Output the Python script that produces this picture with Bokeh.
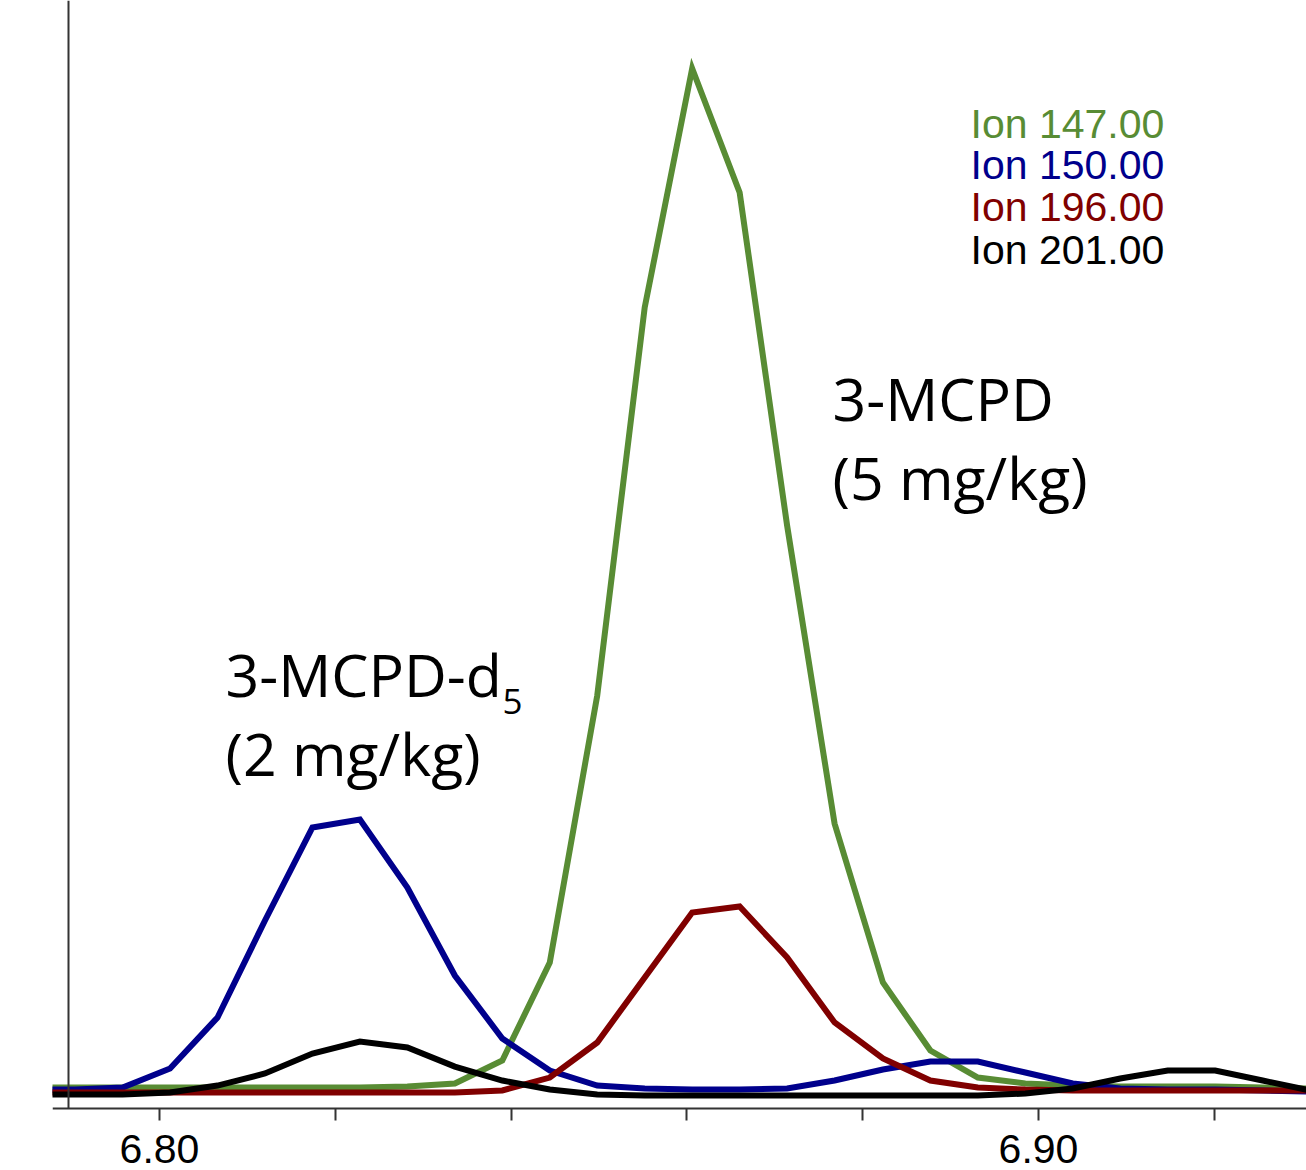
from bokeh.plotting import figure
from bokeh.models import FixedTicker, Label, Range1d, PrintfTickFormatter
from bokeh.embed import file_html
from bokeh.resources import INLINE

# ---- data (retention time in min, relative abundance) ----
times = [6.7850, 6.7904, 6.7958, 6.8012, 6.8066, 6.8120, 6.8174, 6.8228,
         6.8282, 6.8336, 6.8390, 6.8444, 6.8498, 6.8552, 6.8606, 6.8660,
         6.8714, 6.8768, 6.8823, 6.8877, 6.8931, 6.8985, 6.9039, 6.9093,
         6.9147, 6.9201, 6.9255, 6.9309]

ion147 = [0.78, 0.78, 0.78, 0.78, 0.78, 0.78, 0.78, 0.78,
          0.88, 1.17, 3.41, 12.95, 38.95, 76.73, 100.0, 87.93,
          55.50, 26.48, 11.00, 4.38, 1.75, 1.17, 0.97, 0.88,
          0.88, 0.88, 0.78, 0.68]

ion150 = [0.58, 0.58, 0.78, 2.63, 7.60, 17.04, 26.10, 26.87,
          20.25, 11.68, 5.55, 2.43, 0.97, 0.68, 0.58, 0.58,
          0.68, 1.46, 2.53, 3.31, 3.31, 2.24, 1.17, 0.68,
          0.58, 0.58, 0.49, 0.39]

ion196 = [0.29, 0.29, 0.29, 0.29, 0.29, 0.29, 0.29, 0.29,
          0.29, 0.29, 0.49, 1.75, 5.16, 11.49, 17.82, 18.40,
          13.44, 7.11, 3.60, 1.46, 0.78, 0.58, 0.49, 0.49,
          0.49, 0.49, 0.49, 0.49]

ion201 = [0.10, 0.10, 0.10, 0.29, 0.97, 2.14, 4.09, 5.26,
          4.67, 2.82, 1.46, 0.58, 0.10, 0.0, 0.0, 0.0,
          0.0, 0.0, 0.0, 0.0, 0.0, 0.19, 0.68, 1.66,
          2.43, 2.43, 1.46, 0.49]

ion_names = ["Ion 147.00", "Ion 150.00", "Ion 196.00", "Ion 201.00"]
ion_colors = ["#588C34", "#00008C", "#800000", "#000000"]
series = [ion147, ion150, ion196, ion201]

major_ticks = [6.80, 6.90]
minor_ticks = [6.82, 6.84, 6.86, 6.88, 6.92]

# ---- layout helpers (canvas pixel -> data coordinate, for annotations) ----
def X(px):
    return 6.80 + (px - 159) / 8790.0

def Y(py):
    return (1095 - py) / 10.27

W, H = 1306, 1170
p = figure(width=W, height=H, output_backend="svg", toolbar_location=None,
           x_range=Range1d(X(52), X(W)), y_range=Range1d(Y(H), Y(0)),
           min_border_left=52, min_border_right=0, min_border_top=0, min_border_bottom=0)
p.background_fill_color = "white"
p.border_fill_color = "white"
p.outline_line_color = None
p.xgrid.visible = False
p.ygrid.visible = False

# x axis
xa = p.xaxis[0]
xa.fixed_location = Y(1108)
xa.ticker = FixedTicker(ticks=major_ticks, minor_ticks=minor_ticks)
xa.formatter = PrintfTickFormatter(format="%.2f")
xa.axis_line_color = "#333333"
xa.axis_line_width = 2
xa.major_tick_line_color = "#333333"
xa.major_tick_line_width = 2
xa.minor_tick_line_color = "#333333"
xa.minor_tick_line_width = 2
xa.major_tick_in = 0
xa.major_tick_out = 12
xa.minor_tick_in = 0
xa.minor_tick_out = 12
xa.major_label_text_font = "Liberation Sans"
xa.major_label_text_font_size = "41px"
xa.major_label_text_color = "#000000"
xa.major_label_standoff = 14

# y axis (line only)
ya = p.yaxis[0]
ya.fixed_location = X(68)
ya.bounds = (Y(1108), Y(0))
ya.ticker = FixedTicker(ticks=[])
ya.axis_line_color = "#333333"
ya.axis_line_width = 2
ya.major_tick_line_color = None
ya.minor_tick_line_color = None

# traces
for vals, col in zip(series, ion_colors):
    p.line(times, vals, line_color=col, line_width=6, line_join="miter")

# text placement: baseline target in canvas px (empirical 0.4 em correction)
def lab(x_px, base_px, text, size, font, color="black"):
    p.add_layout(Label(x=X(x_px), y=Y(base_px - 0.4 * size), text=text,
                       text_color=color, text_font=font,
                       text_font_size=f"{size}px",
                       text_baseline="alphabetic", text_align="left"))

# legend text
legend_base = [140, 181, 223, 266]
for name, col, by in zip(ion_names, ion_colors, legend_base):
    lab(970, by, name, 41, "Liberation Sans", col)

# compound annotations
ann_font = "Open Sans"
lab(832, 421, "3-MCPD", 59, ann_font)
lab(832, 500, "(5 mg/kg)", 59, ann_font)
lab(225, 697, "3-MCPD-d", 59, ann_font)
lab(502, 715, "5", 35, ann_font)
lab(225, 776, "(2 mg/kg)", 59, ann_font)

open("out.html", "w").write(file_html(p, INLINE))
